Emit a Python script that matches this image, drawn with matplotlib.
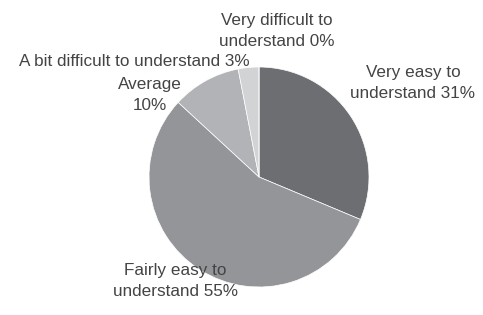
import matplotlib
matplotlib.use("Agg")
import matplotlib.pyplot as plt

labels = ["Very easy to\nunderstand 31%", "Fairly easy to\nunderstand 55%", "Average\n10%",
          "A bit difficult to understand 3%", "Very difficult to\nunderstand 0%"]
values = [31, 55, 10, 3, 0]
colors = ["#6d6e71", "#939598", "#b1b3b6", "#d1d3d4", "#e6e7e8"]
# label positions in pie-radius units
label_pos = [(1.40, 0.85), (-0.76, -0.95), (-0.99, 0.75), (-1.13, 1.05), (0.16, 1.33)]

plt.rcParams['font.family'] = ['Liberation Sans', 'DejaVu Sans']

fig = plt.figure(figsize=(4.83, 3.15), dpi=100)
ax = fig.add_axes([0, 0, 1, 1])
ax.pie(values, colors=colors, startangle=90, counterclock=False, radius=1,
       wedgeprops=dict(edgecolor="white", linewidth=0.5))
for lab, (x, y) in zip(labels, label_pos):
    ax.text(x, y, lab, ha="center", va="center", fontsize=12.3, color="#444444",
            linespacing=1.5)
ax.set_xlim(-259 / 110, 224 / 110)
ax.set_ylim(-138 / 110, 177 / 110)
ax.set_aspect("auto")
ax.axis("off")
fig.savefig("out.png", dpi=100)
